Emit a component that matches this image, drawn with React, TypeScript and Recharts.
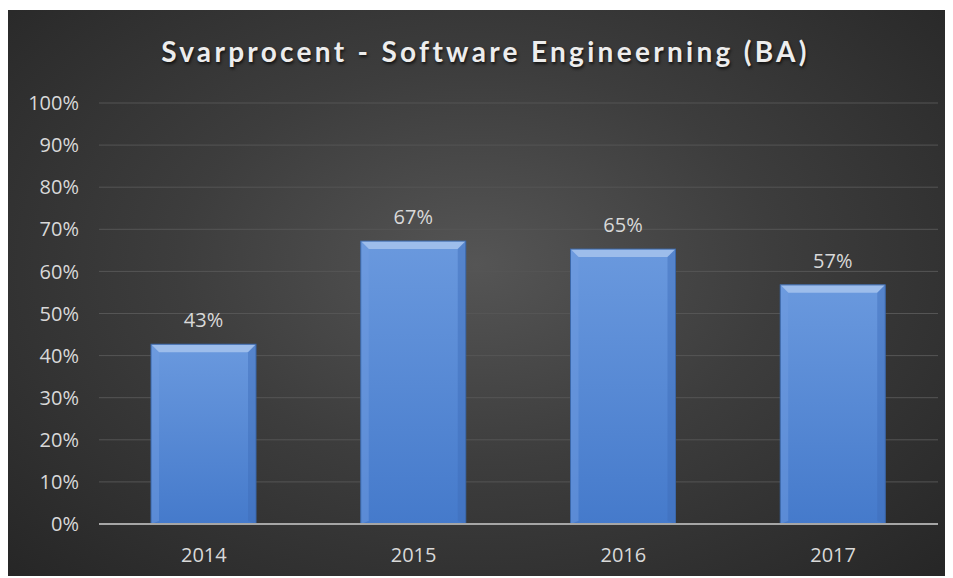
import { BarChart, Bar, CartesianGrid, XAxis, YAxis, LabelList } from 'recharts';

const years = ['2014', '2015', '2016', '2017'];
const rates = [42.7, 67.2, 65.3, 56.8];
const yTicks = [0, 10, 20, 30, 40, 50, 60, 70, 80, 90, 100];

const data = years.map((year, i) => ({ year, rate: rates[i] }));

const FONT = '"Open Sans", Lato, sans-serif';

// beveled bar, like the office "soft edge" look
const BevelBar = (props: any) => {
  const { x, y, width, height } = props;
  if (!height || height <= 0) return null;
  const b = 8;
  return (
    <g>
      <rect x={x} y={y} width={width} height={height} fill="url(#barFill)" />
      <polygon points={`${x},${y} ${x + width},${y} ${x + width - b},${y + b} ${x + b},${y + b}`} fill="#9dbdeb" />
      <polygon points={`${x},${y} ${x + b},${y + b} ${x + b},${y + height - 3} ${x},${y + height}`} fill="#6f9ce0" opacity={0.5} />
      <polygon points={`${x + width},${y} ${x + width - b},${y + b} ${x + width - b},${y + height - 3} ${x + width},${y + height}`} fill="#3d6db8" opacity={0.45} />
      <rect x={x} y={y} width={width} height={height} fill="none" stroke="#3b67a8" strokeWidth={1} />
    </g>
  );
};

export default function App() {
  return (
    <div
      style={{
        position: 'relative',
        width: 939,
        height: 566,
        marginTop: 2,
        marginLeft: -1,
        background: 'radial-gradient(ellipse at 50% 45%, #555555 0%, #3d3d3d 45%, #262626 100%)',
        fontFamily: FONT,
      }}
    >
      <div
        style={{
          position: 'absolute',
          top: 24,
          left: 0,
          width: '100%',
          textAlign: 'center',
          color: '#ededed',
          fontSize: 28,
          fontWeight: 700,
          fontFamily: 'Lato, sans-serif',
          letterSpacing: 3.3,
          paddingLeft: 18,
          boxSizing: 'border-box',
          textShadow: '1px 2px 3px rgba(0,0,0,0.7)',
        }}
      >
        Svarprocent - Software Engineerning (BA)
      </div>
      <BarChart
        width={939}
        height={566}
        data={data}
        margin={{ top: 93, right: 8, bottom: 12, left: 0 }}
      >
        <defs>
          <linearGradient id="barFill" x1="0" y1="0" x2="0" y2="1">
            <stop offset="0%" stopColor="#6a99de" />
            <stop offset="100%" stopColor="#457acb" />
          </linearGradient>
        </defs>
        <CartesianGrid vertical={false} stroke="#555555" strokeWidth={1} />
        <XAxis
          dataKey="year"
          axisLine={{ stroke: '#a6a6a6', strokeWidth: 2 }}
          tickLine={false}
          tick={{ fill: '#d9d9d9', fontSize: 20, fontFamily: FONT }}
          tickMargin={18}
          height={40}
        />
        <YAxis
          domain={[0, 100]}
          ticks={yTicks}
          tickFormatter={(v: number) => `${v}%`}
          axisLine={false}
          tickLine={false}
          tick={{ fill: '#d9d9d9', fontSize: 20, fontFamily: FONT }}
          width={92}
          tickMargin={14}
        />
        <Bar dataKey="rate" barSize={105} shape={<BevelBar />} isAnimationActive={false}>
          <LabelList
            dataKey="rate"
            position="top"
            offset={17}
            formatter={(v: any) => `${Math.round(Number(v))}%`}
            style={{ fill: '#d9d9d9', fontSize: 20, fontFamily: FONT }}
          />
        </Bar>
      </BarChart>
    </div>
  );
}
